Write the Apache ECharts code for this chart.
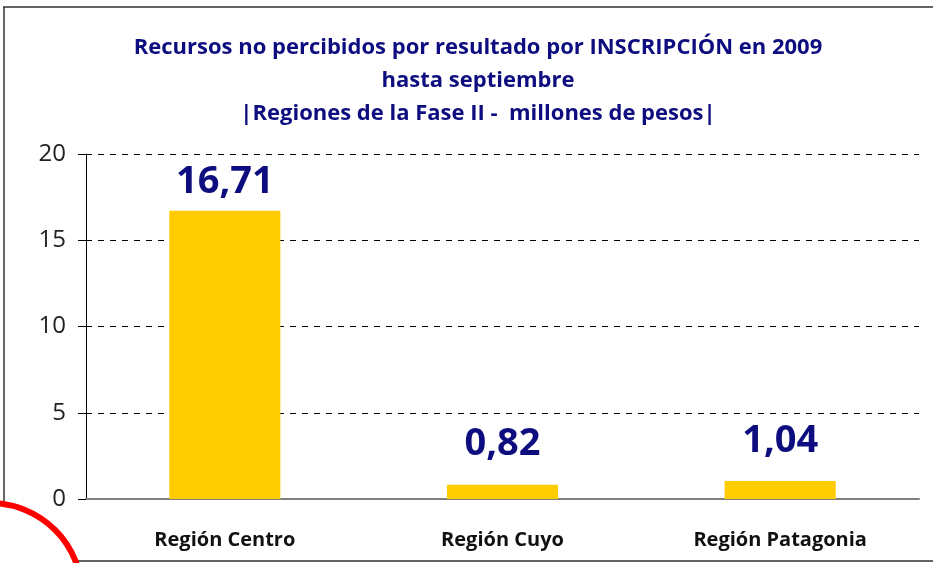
<!DOCTYPE html>
<html>
<head>
<meta charset="utf-8">
<script src="https://cdn.jsdelivr.net/npm/echarts@6/dist/echarts.min.js"></script>
<style>
  html, body { margin: 0; padding: 0; background: #fff; }
  #chart { width: 933px; height: 563px; }
</style>
</head>
<body>
<div id="chart"></div>
<script>
var categories = ['Región Centro', 'Región Cuyo', 'Región Patagonia'];
var values = [16.71, 0.82, 1.04];
var titleLines = [
    'Recursos no percibidos por resultado por INSCRIPCIÓN en 2009',
    'hasta septiembre',
    '|Regiones de la Fase II -  millones de pesos|'
];

// labels were hand-placed in the original, so gaps differ per bar
var labelGap = [10, 22, 21];

var myChart = echarts.init(document.getElementById('chart'));

myChart.setOption({
    backgroundColor: '#fff',
    animation: false,
    title: {
        text: titleLines.join('\n'),
        left: 473,
        top: 26,
        textAlign: 'center',
        textStyle: {
            fontFamily: 'Open Sans',
            fontWeight: 'bold',
            fontSize: 22,
            lineHeight: 33,
            color: '#0d0d80'
        }
    },
    grid: {
        left: 86,
        right: 14,
        top: 154,
        bottom: 64
    },
    xAxis: {
        type: 'category',
        data: categories,
        axisLine: { lineStyle: { color: '#808080', width: 2 } },
        axisTick: { show: false },
        axisLabel: {
            margin: 31,
            fontFamily: 'Open Sans',
            fontWeight: 'bold',
            fontSize: 20,
            color: '#111'
        }
    },
    yAxis: {
        type: 'value',
        min: 0,
        max: 20,
        interval: 5,
        axisLine: { show: true, lineStyle: { color: '#000', width: 1 } },
        axisTick: { show: true, length: 8, lineStyle: { color: '#000' } },
        axisLabel: {
            margin: 20,
            fontFamily: 'Open Sans',
            fontSize: 24,
            color: '#222'
        },
        splitLine: {
            lineStyle: { color: '#000', type: [6, 6], width: 1 }
        }
    },
    series: [{
        type: 'bar',
        data: values.map(function (v, i) {
            return { value: v, label: { distance: labelGap[i] } };
        }),
        barWidth: '40%',
        itemStyle: { color: '#ffcc00' },
        label: {
            show: true,
            position: 'top',
            fontFamily: 'Open Sans',
            fontWeight: 'bold',
            fontSize: 38,
            color: '#0d0d80',
            formatter: function (p) {
                return p.value.toFixed(2).replace('.', ',');
            }
        }
    }],
    graphic: [
        { type: 'line', shape: { x1: 3, y1: 7, x2: 933, y2: 7 }, style: { stroke: '#333', lineWidth: 1.5 } },
        { type: 'line', shape: { x1: 4, y1: 7, x2: 4, y2: 505 }, style: { stroke: '#333', lineWidth: 1.5 } },
        { type: 'line', shape: { x1: 78, y1: 561, x2: 933, y2: 561 }, style: { stroke: '#333', lineWidth: 1.5 } },
        { type: 'circle', shape: { cx: -10, cy: 595, r: 92 }, style: { fill: 'none', stroke: '#ff0000', lineWidth: 6 } }
    ]
});
</script>
</body>
</html>
